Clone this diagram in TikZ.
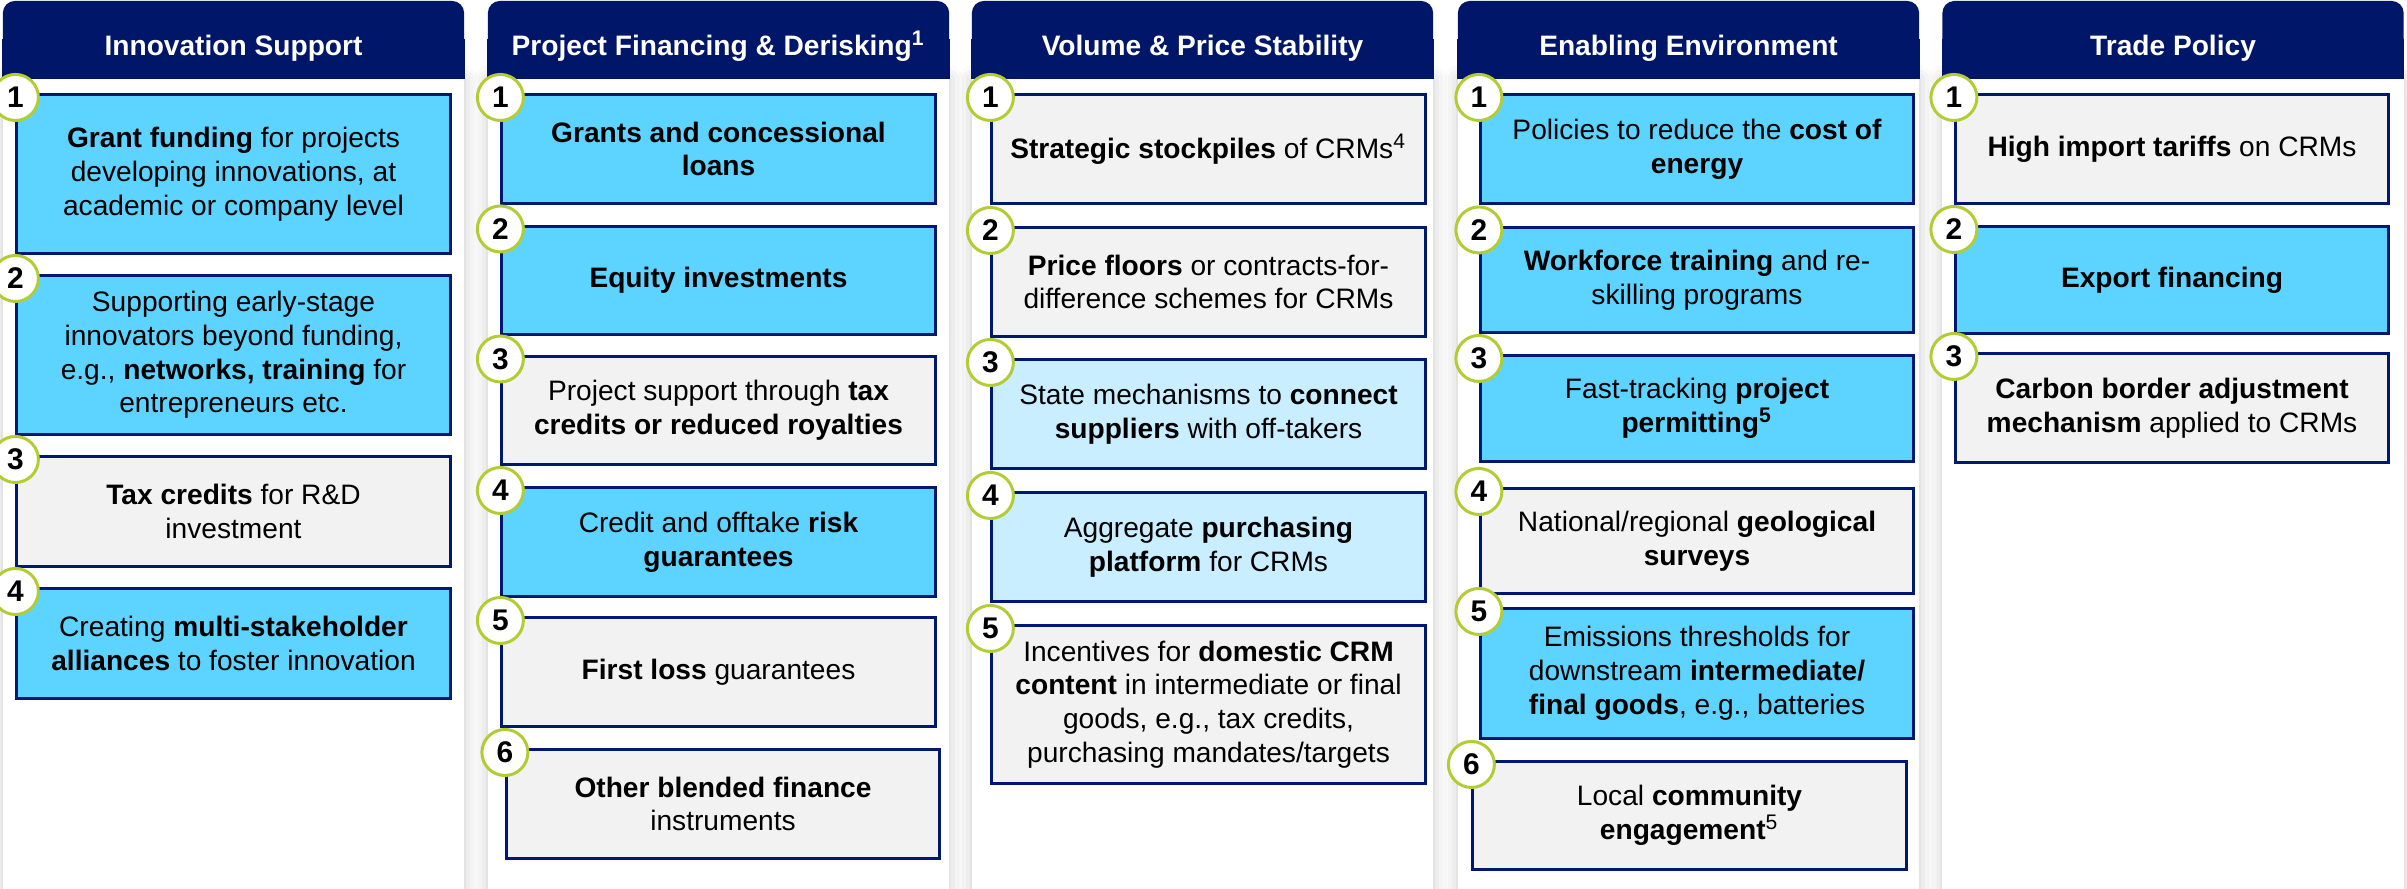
\documentclass[tikz,border=0pt]{standalone}
\usepackage{fontspec}
\setmainfont{Liberation Sans}
\usetikzlibrary{positioning,backgrounds,shadows.blur}
\definecolor{hdnavy}   {RGB}{0, 22,104}
\definecolor{boxnavy}  {RGB}{0, 24,112}
\definecolor{fillcyan} {RGB}{93,211,255}
\definecolor{filllight}{RGB}{200,238,255}
\definecolor{fillgrey} {RGB}{242,242,242}
\definecolor{ringgreen}{RGB}{178,204, 52}
\tikzset{
  panel/.style={fill=white,minimum width=4.61cm,minimum height=8.09cm,inner sep=0pt,
    blur shadow={shadow xshift=0pt,shadow yshift=0pt,shadow blur radius=4pt,shadow opacity=22}},
  colhead/.style={fill=hdnavy,rounded corners=0.12cm,minimum width=4.61cm,
    minimum height=0.77cm,inner sep=0pt,text=white,text height=0.93em,text depth=0pt,
    font=\fontsize{8}{10}\selectfont\bfseries},
  card/.style={draw=boxnavy,line width=0.85pt,minimum width=4.33cm,inner sep=0pt,
    font=\fontsize{8}{9.6}\selectfont,align=center},
  cardcyan/.style={card,fill=fillcyan},
  cardlight/.style={card,fill=filllight},
  cardgrey/.style={card,fill=fillgrey},
  badge/.style={circle,draw=ringgreen,fill=white,line width=0.85pt,
    minimum size=0.46cm,inner sep=0pt,font=\fontsize{8.5}{10}\selectfont\bfseries},
}

\begin{document}
\begin{tikzpicture}[x=0.01cm,y=-0.01cm]
  \useasboundingbox (0,0) rectangle (2407,889);
  % column headers
  \node[colhead](innovhd) at (233.5,39.5) {Innovation Support};
  \node[colhead](finhd)   at (718.5,39.5) {Project Financing \& Derisking\textsuperscript{1}};
  \node[colhead](volhd)   at (1202.5,39.5){Volume \& Price Stability};
  \node[colhead](envhd)   at (1688.5,39.5){Enabling Environment};
  \node[colhead](tradehd) at (2173,39.5)  {Trade Policy};
  % white panels below the headers
  \begin{scope}[on background layer]
    \node[panel,below=0pt of innovhd](innovpnl){};
    \node[panel,below=0pt of finhd](finpnl){};
    \node[panel,below=0pt of volhd](volpnl){};
    \node[panel,below=0pt of envhd](envpnl){};
    \node[panel,below=0pt of tradehd](tradepnl){};
    \foreach \h in {innovhd,finhd,volhd,envhd,tradehd}
      \fill[hdnavy] (\h.west) rectangle (\h.south east);
  \end{scope}

  % Innovation Support
  \node[cardcyan,minimum height=1.58cm](innov1) at (233.5,174)
    {\textbf{Grant funding} for projects\\developing innovations, at\\academic or company level};
  \node[cardcyan,minimum height=1.58cm](innov2) at (233.5,355)
    {Supporting early-stage\\innovators beyond funding,\\e.g., \textbf{networks, training} for\\entrepreneurs etc.};
  \node[cardgrey,minimum height=1.09cm](innov3) at (233.5,511.5)
    {\textbf{Tax credits} for R\&D\\investment};
  \node[cardcyan,minimum height=1.09cm](innov4) at (233.5,643.5)
    {Creating \textbf{multi-stakeholder}\\\textbf{alliances} to foster innovation};

  % Project Financing & Derisking
  \node[cardcyan,minimum height=1.08cm](fin1) at (718.5,149)
    {\textbf{Grants and concessional}\\\textbf{loans}};
  \node[cardcyan,minimum height=1.08cm](fin2) at (718.5,280.5)
    {\textbf{Equity investments}};
  \node[cardgrey,minimum height=1.08cm](fin3) at (718.5,410.5)
    {Project support through \textbf{tax}\\\textbf{credits or reduced royalties}};
  \node[cardcyan,minimum height=1.08cm](fin4) at (718.5,542)
    {Credit and offtake \textbf{risk}\\\textbf{guarantees}};
  \node[cardgrey,minimum height=1.08cm](fin5) at (718.5,672)
    {\textbf{First loss} guarantees};
  \node[cardgrey,minimum height=1.08cm](fin6) at (723,804)
    {\textbf{Other blended finance}\\instruments};

  % Volume & Price Stability
  \node[cardgrey,minimum height=1.08cm](vol1) at (1208.5,149)
    {\textbf{Strategic stockpiles} of CRMs\textsuperscript{4}};
  \node[cardgrey,minimum height=1.08cm](vol2) at (1208.5,282)
    {\textbf{Price floors} or contracts-for-\\difference schemes for CRMs};
  \node[cardlight,minimum height=1.08cm](vol3) at (1208.5,414)
    {State mechanisms to \textbf{connect}\\\textbf{suppliers} with off-takers};
  \node[cardlight,minimum height=1.08cm](vol4) at (1208.5,547)
    {Aggregate \textbf{purchasing}\\\textbf{platform} for CRMs};
  \node[cardgrey,minimum height=1.57cm](vol5) at (1208.5,704.5)
    {Incentives for \textbf{domestic CRM}\\\textbf{content} in intermediate or final\\goods, e.g., tax credits,\\purchasing mandates/targets};

  % Enabling Environment
  \node[cardcyan,minimum height=1.08cm](env1) at (1697,149)
    {Policies to reduce the \textbf{cost of}\\\textbf{energy}};
  \node[cardcyan,minimum height=1.05cm](env2) at (1697,280)
    {\textbf{Workforce training} and re-\\skilling programs};
  \node[cardcyan,minimum height=1.05cm](env3) at (1697,408.5)
    {Fast-tracking \textbf{project}\\\textbf{permitting\textsuperscript{5}}};
  \node[cardgrey,minimum height=1.04cm](env4) at (1697,541)
    {National/regional \textbf{geological}\\\textbf{surveys}};
  \node[cardcyan,minimum height=1.29cm](env5) at (1697,673.5)
    {Emissions thresholds for\\downstream \textbf{intermediate/}\\\textbf{final goods}, e.g., batteries};
  \node[cardgrey,minimum height=1.07cm](env6) at (1689.5,815.5)
    {Local \textbf{community}\\\textbf{engagement}\textsuperscript{5}};

  % Trade Policy
  \node[cardgrey,minimum height=1.08cm](trade1) at (2172,149)
    {\textbf{High import tariffs} on CRMs};
  \node[cardcyan,minimum height=1.06cm](trade2) at (2172,280)
    {\textbf{Export financing}};
  \node[cardgrey,minimum height=1.08cm](trade3) at (2172,408)
    {\textbf{Carbon border adjustment}\\\textbf{mechanism} applied to CRMs};

  % number badges
  \node[badge](innov1n) at ([yshift=-0.04cm]innov1.north west){1};
  \node[badge](innov2n) at ([yshift=-0.04cm]innov2.north west){2};
  \node[badge](innov3n) at ([yshift=-0.04cm]innov3.north west){3};
  \node[badge](innov4n) at ([yshift=-0.04cm]innov4.north west){4};
  \node[badge](fin1n) at ([yshift=-0.04cm]fin1.north west){1};
  \node[badge](fin2n) at ([yshift=-0.04cm]fin2.north west){2};
  \node[badge](fin3n) at ([yshift=-0.04cm]fin3.north west){3};
  \node[badge](fin4n) at ([yshift=-0.04cm]fin4.north west){4};
  \node[badge](fin5n) at ([yshift=-0.04cm]fin5.north west){5};
  \node[badge](fin6n) at ([yshift=-0.04cm]fin6.north west){6};
  \node[badge](vol1n) at ([yshift=-0.04cm]vol1.north west){1};
  \node[badge](vol2n) at ([yshift=-0.04cm]vol2.north west){2};
  \node[badge](vol3n) at ([yshift=-0.04cm]vol3.north west){3};
  \node[badge](vol4n) at ([yshift=-0.04cm]vol4.north west){4};
  \node[badge](vol5n) at ([yshift=-0.04cm]vol5.north west){5};
  \node[badge](env1n) at ([yshift=-0.04cm]env1.north west){1};
  \node[badge](env2n) at ([yshift=-0.04cm]env2.north west){2};
  \node[badge](env3n) at ([yshift=-0.04cm]env3.north west){3};
  \node[badge](env4n) at ([yshift=-0.04cm]env4.north west){4};
  \node[badge](env5n) at ([yshift=-0.04cm]env5.north west){5};
  \node[badge](env6n) at ([yshift=-0.04cm]env6.north west){6};
  \node[badge](trade1n) at ([yshift=-0.04cm]trade1.north west){1};
  \node[badge](trade2n) at ([yshift=-0.04cm]trade2.north west){2};
  \node[badge](trade3n) at ([yshift=-0.04cm]trade3.north west){3};
\end{tikzpicture}
\end{document}
